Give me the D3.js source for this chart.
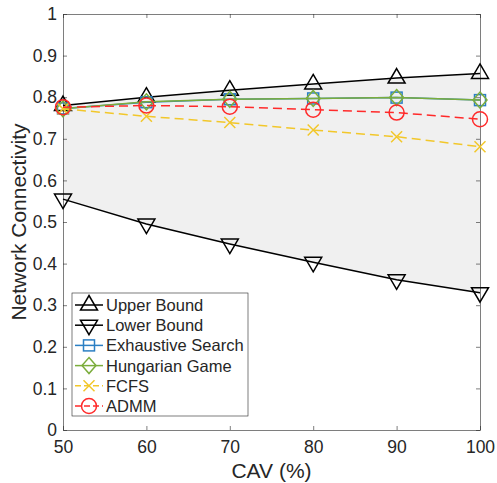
<!DOCTYPE html>
<html>
<head>
<meta charset="utf-8">
<script src="https://cdn.jsdelivr.net/npm/d3@7"></script>
<style>
body { margin: 0; background: #fff; }
text { font-family: "Liberation Sans", Arial, sans-serif; fill: #262626; }
</style>
</head>
<body>
<script>
// data
var cav = [50, 60, 70, 80, 90, 100];
var upperBound = [0.780, 0.800, 0.817, 0.832, 0.846, 0.857];
var lowerBound = [0.555, 0.495, 0.447, 0.403, 0.361, 0.330];
var exhaustive = [0.773, 0.788, 0.795, 0.797, 0.799, 0.793];
var hungarian = [0.772, 0.789, 0.795, 0.797, 0.799, 0.793];
var fcfs = [0.772, 0.754, 0.739, 0.721, 0.705, 0.681];
var admm = [0.776, 0.780, 0.777, 0.770, 0.763, 0.747];
var xTicks = [50, 60, 70, 80, 90, 100];
var yTicks = [0, 0.1, 0.2, 0.3, 0.4, 0.5, 0.6, 0.7, 0.8, 0.9, 1];

var W = 497, H = 483;
var margin = {top: 14, right: 17, bottom: 53, left: 63};

var svg = d3.select("body").append("svg")
	.attr("width", W).attr("height", H);

var x = d3.scaleLinear().domain([50, 100]).range([margin.left, W - margin.right]);
var y = d3.scaleLinear().domain([0, 1]).range([H - margin.bottom, margin.top]);

// shaded band between bounds
var area = d3.area()
	.x(function(d, i) { return x(cav[i]); })
	.y0(function(d, i) { return y(lowerBound[i]); })
	.y1(function(d) { return y(d); });
svg.append("path").datum(upperBound).attr("d", area).attr("fill", "#f0f0f0");

// axes (box with inward ticks)
var axisColor = "#262626";
function styleAxis(g, hideText) {
	g.select(".domain").attr("stroke", "#262626").attr("stroke-width", 0.6);
	g.selectAll(".tick line").attr("stroke", axisColor).attr("stroke-width", 0.6);
	g.selectAll("text").attr("font-size", 17.5).attr("fill", axisColor)
		.attr("font-family", "'Liberation Sans', Arial, sans-serif");
	if (hideText) g.selectAll("text").remove();
}
var fmtY = function(d) { return d === 0 ? "0" : d === 1 ? "1" : d3.format(".1f")(d); };
svg.append("g").attr("transform", "translate(0," + y(0) + ")")
	.call(d3.axisBottom(x).tickValues(xTicks).tickSizeInner(-4).tickSizeOuter(0).tickPadding(11))
	.call(styleAxis, false);
svg.append("g").attr("transform", "translate(0," + y(1) + ")")
	.call(d3.axisTop(x).tickValues(xTicks).tickSizeInner(-4).tickSizeOuter(0))
	.call(styleAxis, true);
svg.append("g").attr("transform", "translate(" + x(50) + ",0)")
	.call(d3.axisLeft(y).tickValues(yTicks).tickFormat(fmtY).tickSizeInner(-4).tickSizeOuter(0).tickPadding(6))
	.call(styleAxis, false);
svg.append("g").attr("transform", "translate(" + x(100) + ",0)")
	.call(d3.axisRight(y).tickValues(yTicks).tickSizeInner(-4).tickSizeOuter(0))
	.call(styleAxis, true);

svg.append("text").attr("x", (x(50) + x(100)) / 2).attr("y", 478)
	.attr("text-anchor", "middle").attr("font-size", 21).text("CAV (%)");
svg.append("text").attr("transform", "translate(26," + y(0.5) + ") rotate(-90)")
	.attr("text-anchor", "middle").attr("font-size", 21).text("Network Connectivity");

// markers
function marker(g, type, color) {
	if (type === "up") {
		g.append("path").attr("d", "M0,-9.5L8.5,5L-8.5,5Z").attr("fill", "none").attr("stroke", color).attr("stroke-width", 1.5);
	} else if (type === "down") {
		g.append("path").attr("d", "M0,9.5L8.5,-5L-8.5,-5Z").attr("fill", "none").attr("stroke", color).attr("stroke-width", 1.5);
	} else if (type === "square") {
		g.append("rect").attr("x", -5.5).attr("y", -5.5).attr("width", 11).attr("height", 11)
			.attr("fill", "none").attr("stroke", color).attr("stroke-width", 1.5);
	} else if (type === "diamond") {
		g.append("path").attr("d", "M0,-8L7,0L0,8L-7,0Z").attr("fill", "none").attr("stroke", color).attr("stroke-width", 1.5);
	} else if (type === "x") {
		g.append("path").attr("d", "M-5.5,-5.5L5.5,5.5M-5.5,5.5L5.5,-5.5").attr("stroke", color).attr("stroke-width", 1.5);
	} else if (type === "circle") {
		g.append("circle").attr("r", 7.5).attr("fill", "none").attr("stroke", color).attr("stroke-width", 1.5);
	}
}

var series = [
	{name: "Upper Bound", values: upperBound, color: "#000000", dash: null, mark: "up"},
	{name: "Lower Bound", values: lowerBound, color: "#000000", dash: null, mark: "down"},
	{name: "Exhaustive Search", values: exhaustive, color: "#2b7fc4", dash: null, mark: "square"},
	{name: "Hungarian Game", values: hungarian, color: "#7bad3c", dash: null, mark: "diamond"},
	{name: "FCFS", values: fcfs, color: "#f2c72a", dash: "9,5", mark: "x"},
	{name: "ADMM", values: admm, color: "#ff2a2a", dash: "9,5", mark: "circle"}
];

var line = d3.line()
	.x(function(d, i) { return x(cav[i]); })
	.y(function(d) { return y(d); });

series.forEach(function(s) {
	svg.append("path").datum(s.values).attr("d", line)
		.attr("fill", "none").attr("stroke", s.color).attr("stroke-width", 1.5)
		.attr("stroke-dasharray", s.dash);
	s.values.forEach(function(v, i) {
		var g = svg.append("g").attr("transform", "translate(" + x(cav[i]) + "," + y(v) + ")");
		marker(g, s.mark, s.color);
	});
});

// legend
var lg = svg.append("g");
lg.append("rect").attr("x", 72).attr("y", 293).attr("width", 176).attr("height", 123)
	.attr("fill", "#fff").attr("stroke", "#262626").attr("stroke-width", 0.6);
series.forEach(function(s, i) {
	var ly = 305 + i * 20.2;
	lg.append("line").attr("x1", 75).attr("x2", 103).attr("y1", ly).attr("y2", ly)
		.attr("stroke", s.color).attr("stroke-width", 1.5).attr("stroke-dasharray", s.dash ? "6,3" : null);
	marker(lg.append("g").attr("transform", "translate(89," + ly + ")"), s.mark, s.color);
	lg.append("text").attr("x", 106).attr("y", ly + 6).attr("font-size", 16.5).text(s.name);
});
</script>
</body>
</html>
